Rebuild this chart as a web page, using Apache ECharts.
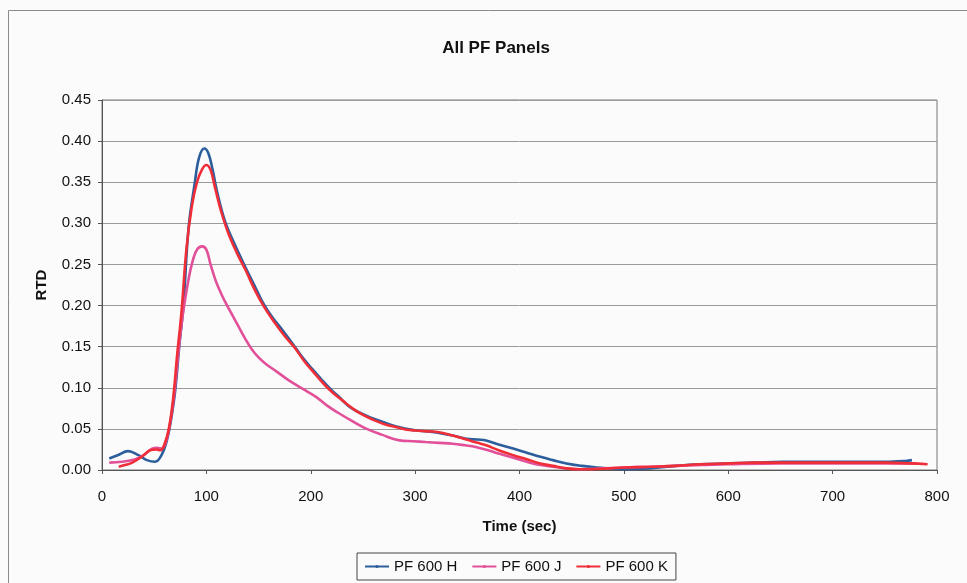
<!DOCTYPE html>
<html>
<head>
<meta charset="utf-8">
<script src="https://cdn.jsdelivr.net/npm/echarts@6/dist/echarts.min.js"></script>
<style>
  html, body { margin: 0; padding: 0; background: #fbfbfb; }
  #chart { width: 967px; height: 583px; }
</style>
</head>
<body>
<div id="chart"></div>
<script>
// Residence time distribution curves for the PF panels
const seriesNames = ['PF 600 H', 'PF 600 J', 'PF 600 K'];

const timeH = [7, 15, 25, 35, 43, 51, 57, 62, 66, 70, 74, 78, 83, 89, 93, 98, 102, 106, 110, 118, 128, 138, 147, 154, 163, 173, 183, 192, 202, 211, 220, 227, 237, 248, 259, 270, 282, 292, 301, 312, 323, 336, 349, 360, 368, 380, 394, 407, 420, 432, 445, 460, 474, 485, 500, 525, 550, 573, 600, 625, 653, 700, 750, 770, 776];
const rtdH = [0.014, 0.018, 0.023, 0.018, 0.012, 0.010, 0.018, 0.035, 0.060, 0.095, 0.150, 0.200, 0.295, 0.350, 0.380, 0.391, 0.385, 0.365, 0.340, 0.302, 0.272, 0.245, 0.222, 0.204, 0.186, 0.170, 0.153, 0.137, 0.122, 0.109, 0.097, 0.089, 0.077, 0.069, 0.063, 0.058, 0.053, 0.050, 0.048, 0.047, 0.045, 0.042, 0.038, 0.037, 0.036, 0.031, 0.026, 0.021, 0.016, 0.012, 0.008, 0.005, 0.003, 0.002, 0.001, 0.002, 0.005, 0.007, 0.008, 0.009, 0.010, 0.010, 0.010, 0.011, 0.012];

const timeJ = [7, 19, 32, 40, 48, 53, 57, 61, 65, 69, 73, 77, 81, 86, 91, 96, 100, 104, 109, 114, 119, 125, 131, 137, 144, 150, 157, 167, 179, 192, 205, 216, 227, 239, 252, 268, 285, 298, 310, 323, 336, 348, 358, 370, 380, 394, 407, 420, 432, 445, 460, 480, 500, 525, 550, 575, 600, 650, 700, 750, 780];
const rtdJ = [0.009, 0.010, 0.013, 0.018, 0.026, 0.027, 0.026, 0.033, 0.055, 0.090, 0.140, 0.185, 0.218, 0.250, 0.268, 0.272, 0.268, 0.250, 0.230, 0.215, 0.202, 0.188, 0.174, 0.160, 0.146, 0.137, 0.129, 0.120, 0.109, 0.099, 0.089, 0.078, 0.069, 0.060, 0.051, 0.043, 0.036, 0.035, 0.034, 0.033, 0.032, 0.030, 0.028, 0.024, 0.020, 0.015, 0.010, 0.006, 0.004, 0.002, 0.001, 0.002, 0.003, 0.004, 0.005, 0.006, 0.007, 0.008, 0.008, 0.008, 0.008];

const timeK = [16, 22, 29, 38, 46, 52, 56, 60, 64, 68, 72, 76, 81, 86, 91, 96, 100, 104, 108, 114, 121, 130, 138, 146, 155, 165, 175, 185, 194, 204, 213, 222, 230, 240, 250, 260, 270, 282, 292, 301, 312, 323, 336, 349, 360, 368, 380, 394, 407, 420, 432, 445, 455, 470, 485, 500, 525, 550, 573, 600, 625, 653, 700, 750, 775, 791];
const rtdK = [0.004, 0.006, 0.009, 0.016, 0.024, 0.025, 0.024, 0.032, 0.050, 0.085, 0.140, 0.190, 0.270, 0.320, 0.350, 0.366, 0.371, 0.365, 0.345, 0.315, 0.288, 0.262, 0.242, 0.220, 0.199, 0.180, 0.163, 0.148, 0.132, 0.117, 0.104, 0.093, 0.085, 0.075, 0.067, 0.061, 0.056, 0.052, 0.049, 0.048, 0.047, 0.046, 0.042, 0.037, 0.033, 0.030, 0.024, 0.018, 0.013, 0.008, 0.005, 0.002, 0.001, 0.001, 0.002, 0.003, 0.004, 0.005, 0.007, 0.008, 0.009, 0.009, 0.009, 0.009, 0.008, 0.007];

const xTicks = [0, 100, 200, 300, 400, 500, 600, 700, 800];
const yTicks = [0, 0.05, 0.10, 0.15, 0.20, 0.25, 0.30, 0.35, 0.40, 0.45];

const colors = ['#2c5e9c', '#e2509a', '#ef2e38'];

function pairs(ts, vs) { return ts.map((t, i) => [t, vs[i]]); }

const chart = echarts.init(document.getElementById('chart'));
const font = 'Liberation Sans, Arial, sans-serif';

chart.setOption({
  backgroundColor: '#fbfbfb',
  animation: false,
  color: colors,
  textStyle: { fontFamily: font },
  title: {
    text: 'All PF Panels',
    left: 491, top: 35, textAlign: 'center',
    textStyle: { fontSize: 17, fontWeight: 'bold', color: '#111', fontFamily: font }
  },
  graphic: [{
    type: 'rect', silent: true, z: -1,
    shape: { x: 8.5, y: 10.5, width: 970, height: 600 },
    style: { fill: 'none', stroke: '#8a8a8a', lineWidth: 1 }
  }],
  grid: { left: 102, right: 30, top: 100, bottom: 113, show: true, borderColor: '#777', borderWidth: 1, backgroundColor: 'transparent' },
  xAxis: {
    type: 'value', min: xTicks[0], max: xTicks[xTicks.length - 1], interval: 100,
    name: 'Time (sec)', nameLocation: 'middle', nameGap: 49,
    nameTextStyle: { fontSize: 15, fontWeight: 'bold', color: '#111', fontFamily: font },
    axisLine: { onZero: false, lineStyle: { color: '#555' } },
    axisTick: { show: true, length: 4, inside: false, lineStyle: { color: '#555' } },
    axisLabel: { fontSize: 15, color: '#111', margin: 19, fontFamily: font },
    splitLine: { show: false }
  },
  yAxis: {
    type: 'value', min: yTicks[0], max: yTicks[yTicks.length - 1], interval: 0.05,
    name: 'RTD', nameLocation: 'middle', nameGap: 53, nameRotate: 90,
    nameTextStyle: { fontSize: 15, fontWeight: 'bold', color: '#111', fontFamily: font },
    axisLine: { show: true, lineStyle: { color: '#555' } },
    axisTick: { show: true, length: 4, lineStyle: { color: '#555' } },
    axisLabel: { fontSize: 15, color: '#111', margin: 11, fontFamily: font, formatter: v => v.toFixed(2) },
    splitLine: { show: true, lineStyle: { color: '#9a9a9a', width: 1 } }
  },
  legend: {
    left: 357, top: 553,
    orient: 'horizontal',
    itemWidth: 24, itemHeight: 4, itemGap: 14,
    padding: [6, 8, 6, 7],
    borderColor: '#444', borderWidth: 1,
    textStyle: { fontSize: 15, color: '#111', fontFamily: font },
    data: seriesNames
  },
  series: [
    { name: seriesNames[0], data: pairs(timeH, rtdH), z: 2 },
    { name: seriesNames[1], data: pairs(timeJ, rtdJ), z: 3 },
    { name: seriesNames[2], data: pairs(timeK, rtdK), z: 4 }
  ].map(s => Object.assign({
    type: 'line', smooth: 0.4, showSymbol: false, symbol: 'circle', symbolSize: 3,
    lineStyle: { width: 2.6 }
  }, s))
});
</script>
</body>
</html>
